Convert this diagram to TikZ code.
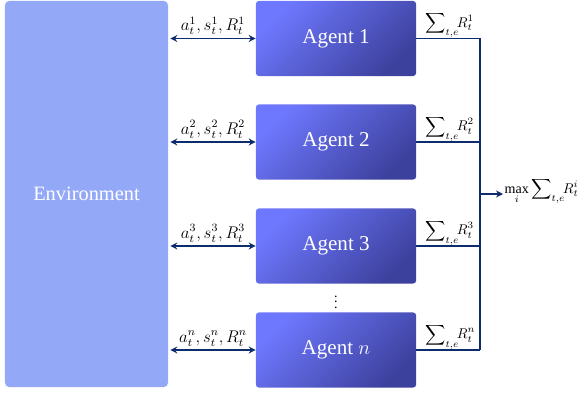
\documentclass[tikz,border=0pt]{standalone}
\usepackage{fontspec}
\setmainfont{Liberation Serif}
\usepackage{amsmath}
\usepackage{tikz}
\usetikzlibrary{arrows.meta, calc}
\definecolor{env_blue}{HTML}{93A9F7}
\definecolor{agent_light}{HTML}{6E78FE}
\definecolor{agent_dark}{HTML}{3D419E}
\definecolor{link_navy}{HTML}{0D2C6C}

\tikzset{
    envbox/.style={fill=env_blue, rounded corners=3pt, text=white,
        minimum width=4.075cm, minimum height=9.65cm, font=\fontsize{14.5}{17}\selectfont},
    agentbox/.style={top color=agent_light, bottom color=agent_dark, shading angle=45,
        rounded corners=2pt, text=white, minimum width=4cm, minimum height=1.875cm,
        font=\fontsize{15}{18}\selectfont},
    link/.style={link_navy, line width=1.3pt, {Stealth[length=5pt,width=5pt]}-{Stealth[length=5pt,width=5pt]}},
    linklabel/.style={above, text=black, inner sep=1pt, yshift=1pt, font=\large},
    bus/.style={link_navy, line width=0.9pt},
    sumlabel/.style={above right, inner sep=0.5pt, font=\normalsize}
}

\begin{document}
\begin{tikzpicture}[x=0.025cm, y=-0.025cm]

% fix the frame to the reference size
\useasboundingbox (0,0) rectangle (586,407);

% Environment block on the left
\node[envbox] (env) at (86.5,194) {Environment};

% Agents, one row each
\node[agentbox] (agent1) at (336,38.5) {Agent 1};
\node[agentbox] (agent2) at (336,142) {Agent 2};
\node[agentbox] (agent3) at (336,246) {Agent 3};
\node[agentbox] (agentn) at (336,350) {Agent $n$};
\node (dots) at (336,298) {$\vdots$};

% Interaction arrows between environment and agents
\draw[link] ($(env.east |- agent1) + (2,0)$) -- node[linklabel] {$a_t^1, s_t^1, R_t^1$} (agent1.west);
\draw[link] ($(env.east |- agent2) + (2,0)$) -- node[linklabel] {$a_t^2, s_t^2, R_t^2$} (agent2.west);
\draw[link] ($(env.east |- agent3) + (2,0)$) -- node[linklabel] {$a_t^3, s_t^3, R_t^3$} (agent3.west);
\draw[link] ($(env.east |- agentn) + (2,0)$) -- node[linklabel] {$a_t^n, s_t^n, R_t^n$} (agentn.west);

% Collecting bus for the returns
\coordinate (bus) at (480,194);
\draw[bus] (agent1.east) -- (agent1.east -| bus);
\draw[bus] (agent2.east) -- (agent2.east -| bus);
\draw[bus] (agent3.east) -- (agent3.east -| bus);
\draw[bus] (agentn.east) -- (agentn.east -| bus);
\draw[bus] (agent1.east -| bus) -- (agentn.east -| bus);

% Return labels sitting on the lines
\node[sumlabel] (sum1) at ($(agent1.east) + (8,0)$) {$\displaystyle\sum\nolimits_{t,e}\!\!R_t^1$};
\node[sumlabel] (sum2) at ($(agent2.east) + (8,0)$) {$\displaystyle\sum\nolimits_{t,e}\!\!R_t^2$};
\node[sumlabel] (sum3) at ($(agent3.east) + (8,0)$) {$\displaystyle\sum\nolimits_{t,e}\!\!R_t^3$};
\node[sumlabel] (sumn) at ($(agentn.east) + (8,0)$) {$\displaystyle\sum\nolimits_{t,e}\!\!R_t^n$};

% Final selection
\node[right, inner sep=1pt] (best) at (503,191) {$\max\limits_i \displaystyle\sum\nolimits_{t,e}\!\!R_t^i$};
\draw[bus, -{Stealth[length=5pt,width=5pt]}] (bus) -- (bus -| best.west);

\end{tikzpicture}
\end{document}
